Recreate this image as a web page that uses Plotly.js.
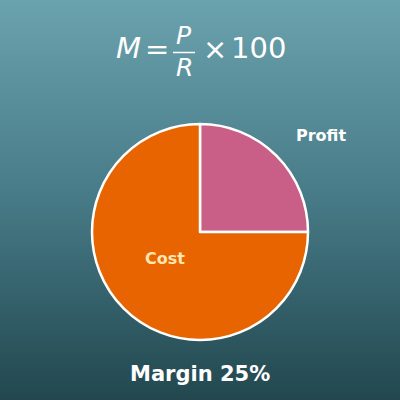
<!DOCTYPE html>
<html>
<head>
<meta charset="utf-8">
<script src="https://cdn.plot.ly/plotly-3.0.1.min.js"></script>
<style>
html,body{margin:0;padding:0;}
#chart{width:400px;height:400px;background:linear-gradient(to bottom,#6aa2ad 0%,#467a86 50%,#22474f 100%);}
</style>
</head>
<body>
<div id="chart"></div>
<script>
const labels = ["Profit", "Cost"];
const values = [25, 75];
const colors = ["#c95e86", "#e86400"];
const labelColors = ["#ffffff", "#ffe6b0"];
const footer = "Margin 25%";

const W = 400, H = 400;
const px = x => x / W;
const py = y => 1 - y / H;
const font = "DejaVu Sans, sans-serif";

const data = [{
  type: "pie",
  labels: labels,
  values: values,
  sort: false,
  direction: "clockwise",
  rotation: 0,
  marker: {colors: colors, line: {color: "#ffffff", width: 2.5}},
  textinfo: "none",
  hoverinfo: "label+percent",
  domain: {x: [px(92), px(308)], y: [py(340), py(124)]},
  showlegend: false
}];

const annotations = [
  {text: "<i>M</i>", x: px(128), y: py(48), font: {size: 29, color: "#fff", family: font}},
  {text: "=", x: px(157), y: py(49), font: {size: 29, color: "#fff", family: font}},
  {text: "<i>P</i>", x: px(184), y: py(36), font: {size: 25, color: "#fff", family: font}},
  {text: "<i>R</i>", x: px(184), y: py(67), font: {size: 25, color: "#fff", family: font}},
  {text: "×", x: px(215), y: py(49), font: {size: 29, color: "#fff", family: font}},
  {text: "100", x: px(258), y: py(48), font: {size: 29, color: "#fff", family: font}},
  {text: "<b>" + labels[0] + "</b>", x: px(321), y: py(135), font: {size: 16, color: labelColors[0], family: font}},
  {text: "<b>" + labels[1] + "</b>", x: px(165), y: py(258), font: {size: 16, color: labelColors[1], family: font}},
  {text: "<b>" + footer + "</b>", x: px(200), y: py(374), font: {size: 21, color: "#fff", family: font}}
].map(a => Object.assign({xref: "paper", yref: "paper", showarrow: false, xanchor: "center", yanchor: "middle"}, a));

const layout = {
  width: W, height: H,
  margin: {l: 0, r: 0, t: 0, b: 0},
  paper_bgcolor: "rgba(0,0,0,0)",
  plot_bgcolor: "rgba(0,0,0,0)",
  font: {family: font, color: "#fff"},
  annotations: annotations,
  shapes: [{type: "line", xref: "paper", yref: "paper", x0: px(173), x1: px(195), y0: py(52.5), y1: py(52.5), line: {color: "#fff", width: 1.5}}]
};

Plotly.newPlot("chart", data, layout, {displayModeBar: false, staticPlot: true});
</script>
</body>
</html>
